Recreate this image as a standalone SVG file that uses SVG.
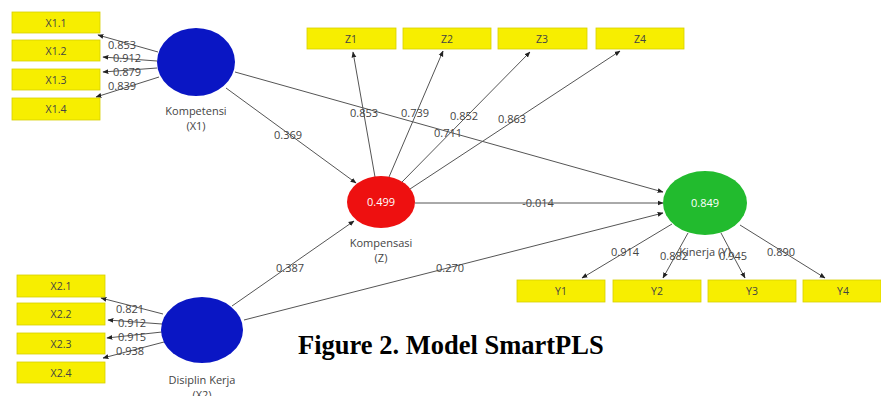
<svg xmlns="http://www.w3.org/2000/svg" width="881" height="396" viewBox="0 0 881 396">
<style>
.box{fill:#f7ee00;stroke:#d8cf00;stroke-width:0.8}
.bt{font-family:"Open Sans","Liberation Sans",sans-serif;font-size:10.5px;fill:#444;text-anchor:middle}
.lbl{font-family:"Open Sans","Liberation Sans",sans-serif;font-size:11px;fill:#444;text-anchor:middle}
.val{font-family:"Open Sans","Liberation Sans",sans-serif;font-size:11px;fill:#fff;text-anchor:middle}
.ln{stroke:#555;stroke-width:1;fill:none;marker-end:url(#ah)}
.lt{font-family:"Open Sans","Liberation Sans",sans-serif;font-size:11px;fill:#444;text-anchor:middle}
</style>
<defs>
<marker id="ah" viewBox="0 0 10 10" refX="9" refY="5" markerWidth="6" markerHeight="6" orient="auto">
<path d="M0,1 L10,5 L0,9 Z" fill="#222"/>
</marker>
</defs>
<rect width="881" height="396" fill="#fff"/>
<g id="connectors">
<line class="ln" x1="158" y1="52" x2="98" y2="35"/>
<line class="ln" x1="157" y1="61" x2="103" y2="57"/>
<line class="ln" x1="157" y1="68" x2="103" y2="72"/>
<line class="ln" x1="159" y1="77" x2="96" y2="97"/>
<line class="ln" x1="163" y1="314" x2="101" y2="298"/>
<line class="ln" x1="162" y1="324" x2="108" y2="320"/>
<line class="ln" x1="162" y1="332" x2="107" y2="338"/>
<line class="ln" x1="164" y1="342" x2="103" y2="358"/>
<line class="ln" x1="375" y1="177" x2="353" y2="52"/>
<line class="ln" x1="389" y1="177" x2="443" y2="51"/>
<line class="ln" x1="401" y1="183" x2="530" y2="52"/>
<line class="ln" x1="410" y1="189" x2="620" y2="51"/>
<line class="ln" x1="235" y1="72" x2="663" y2="192"/>
<line class="ln" x1="226" y1="88" x2="356" y2="183"/>
<line class="ln" x1="415" y1="203" x2="663" y2="203"/>
<line class="ln" x1="232" y1="306" x2="354" y2="221"/>
<line class="ln" x1="244" y1="320" x2="663" y2="213"/>
<line class="ln" x1="672" y1="224" x2="582" y2="278"/>
<line class="ln" x1="688" y1="233" x2="663" y2="278"/>
<line class="ln" x1="721" y1="233" x2="745" y2="278"/>
<line class="ln" x1="740" y1="225" x2="825" y2="278"/>
</g>
<g id="loadings">
<text class="lt" x="122" y="49">0.853</text>
<text class="lt" x="127" y="62">0.912</text>
<text class="lt" x="127" y="76">0.879</text>
<text class="lt" x="122" y="90">0.839</text>
<text class="lt" x="130" y="313">0.821</text>
<text class="lt" x="132" y="327">0.912</text>
<text class="lt" x="132" y="341">0.915</text>
<text class="lt" x="130" y="355">0.938</text>
<text class="lt" x="364" y="117">0.853</text>
<text class="lt" x="415" y="117">0.739</text>
<text class="lt" x="464" y="120">0.852</text>
<text class="lt" x="512" y="123">0.863</text>
<text class="lt" x="448" y="137">0.711</text>
<text class="lt" x="288" y="139">0.369</text>
<text class="lt" x="538" y="207">-0.014</text>
<text class="lt" x="290" y="272">0.387</text>
<text class="lt" x="450" y="272">0.270</text>
<text class="lt" x="625" y="256">0.914</text>
<text class="lt" x="674" y="260">0.882</text>
<text class="lt" x="733" y="260">0.945</text>
<text class="lt" x="781" y="256">0.890</text>
</g>
<g id="X1.1"><rect class="box" x="12" y="12" width="88" height="21"/><text class="bt" x="56" y="26.5">X1.1</text></g>
<g id="X1.2"><rect class="box" x="12" y="40" width="88" height="21"/><text class="bt" x="56" y="54.5">X1.2</text></g>
<g id="X1.3"><rect class="box" x="12" y="69" width="88" height="21"/><text class="bt" x="56" y="83.5">X1.3</text></g>
<g id="X1.4"><rect class="box" x="12" y="98" width="88" height="22"/><text class="bt" x="56" y="113">X1.4</text></g>
<g id="X2.1"><rect class="box" x="17" y="275" width="88" height="22"/><text class="bt" x="61" y="290">X2.1</text></g>
<g id="X2.2"><rect class="box" x="17" y="303" width="88" height="22"/><text class="bt" x="61" y="318">X2.2</text></g>
<g id="X2.3"><rect class="box" x="17" y="333" width="88" height="21"/><text class="bt" x="61" y="347.5">X2.3</text></g>
<g id="X2.4"><rect class="box" x="17" y="362" width="88" height="21"/><text class="bt" x="61" y="376.5">X2.4</text></g>
<g id="Z1"><rect class="box" x="307" y="28" width="89" height="21"/><text class="bt" x="351" y="42.5">Z1</text></g>
<g id="Z2"><rect class="box" x="403" y="28" width="88" height="21"/><text class="bt" x="447" y="42.5">Z2</text></g>
<g id="Z3"><rect class="box" x="498" y="28" width="89" height="21"/><text class="bt" x="542" y="42.5">Z3</text></g>
<g id="Z4"><rect class="box" x="596" y="28" width="88" height="21"/><text class="bt" x="640" y="42.5">Z4</text></g>
<g id="Y1"><rect class="box" x="517" y="280" width="88" height="22"/><text class="bt" x="561" y="295">Y1</text></g>
<g id="Y2"><rect class="box" x="613" y="280" width="88" height="22"/><text class="bt" x="657" y="295">Y2</text></g>
<g id="Y3"><rect class="box" x="708" y="280" width="88" height="22"/><text class="bt" x="752" y="295">Y3</text></g>
<g id="Y4"><rect class="box" x="803" y="280" width="78" height="22"/><text class="bt" x="843" y="295">Y4</text></g>
<g id="Kompetensi">
<ellipse cx="196" cy="62" rx="39" ry="34" fill="#0a16c4"/>
<text class="lbl" x="196" y="115">Kompetensi</text>
<text class="lbl" x="196" y="130">(X1)</text>
</g>
<g id="Kompensasi">
<ellipse cx="381" cy="202" rx="34" ry="26" fill="#ee1010"/>
<text class="val" x="381" y="206">0.499</text>
<text class="lbl" x="381" y="247">Kompensasi</text>
<text class="lbl" x="381" y="262">(Z)</text>
</g>
<g id="Kinerja">
<ellipse cx="705" cy="203" rx="42" ry="32" fill="#22bb2e"/>
<text class="val" x="705" y="207">0.849</text>
<text class="lbl" x="705" y="256">Kinerja (Y)</text>
</g>
<g id="Disiplin">
<ellipse cx="202" cy="330" rx="41" ry="33" fill="#0a16c4"/>
<text class="lbl" x="202" y="384">Disiplin Kerja</text>
<text class="lbl" x="202" y="399">(X2)</text>
</g>
<text x="298" y="354" font-family="'Liberation Serif',serif" font-weight="bold" font-size="26.5" fill="#000">Figure 2. Model SmartPLS</text>
</svg>
